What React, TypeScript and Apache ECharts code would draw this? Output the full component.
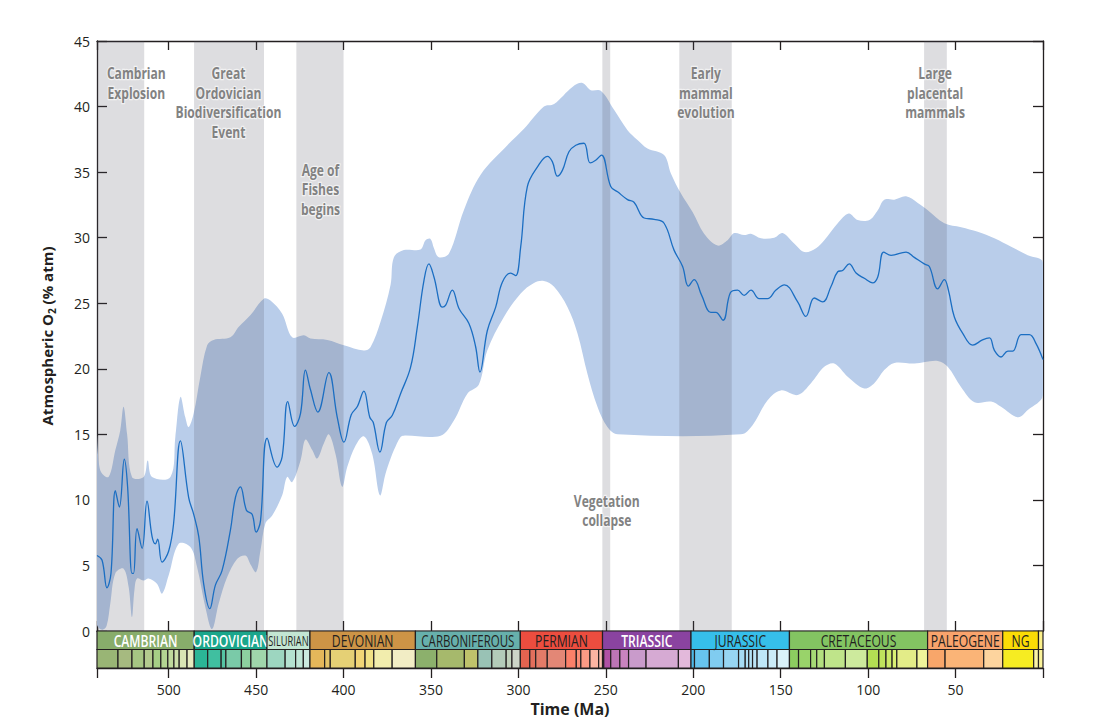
import React, { useEffect, useRef } from 'react';
import * as echarts from 'echarts';

// Time axis runs from the base of the Cambrian (541 Ma) to the present.
const AGE_MIN = 0;
const AGE_MAX = 541;
const O2_MAX = 45;

// Best estimate of atmospheric O2, [age Ma, % atm]
const o2Best: [number, number][] = [
  [541, 5.76], [538.1, 5.4], [535.3, 3.3], [533, 4.4], [530.5, 10.7], [528.2, 9.45], [525.4, 13.1],
  [523.5, 11], [521, 4.4], [520.1, 4.4], [518.1, 7.8], [515.2, 6.3], [512.4, 9.9], [509.5, 7.2],
  [507.6, 6.65], [506.3, 7.0], [503.8, 5.25], [500, 6.1], [497.2, 8.2], [493.3, 14.5], [488.6, 10.2],
  [485.7, 8.9], [482.8, 7.2], [480, 3.6], [476.5, 1.7], [473.3, 3.5], [469.5, 4.6], [464.7, 7.7],
  [461.8, 10.2], [459, 11], [455.5, 9.2], [452.3, 8.9], [450, 7.55], [447.5, 8.4], [443.7, 14.7],
  [438, 12.5], [435.1, 13.3], [431.9, 17.5], [428, 15.6], [424.6, 16.6], [421.8, 19.9], [418.9, 18.4],
  [414.7, 16.7], [408.4, 19.7], [403.6, 16.3], [399.8, 14.4], [395.6, 16.5], [392.2, 17.1],
  [388.4, 18.3], [385, 16.3], [383, 15.9], [379.2, 13.65], [375.5, 15.9], [372.1, 16.45],
  [367.4, 18.1], [361.7, 20.1], [357.8, 23.2], [354, 26.75], [351.2, 28.0], [348.3, 27.0],
  [343.5, 24.7], [341.6, 24.85], [337.8, 26.0], [334, 24.6], [328.3, 23.45], [324.5, 21.7],
  [322, 19.75], [317.8, 22.9], [313, 24.7], [309.2, 26.6], [304.4, 27.3], [301.6, 27.1],
  [298.7, 29.3], [294.9, 33.9], [289.1, 35.4], [283.4, 36.2], [280.6, 35.8], [277.7, 34.7],
  [274.8, 35.15], [271.1, 36.55], [267.2, 37.05], [262.5, 37.2], [259, 35.7], [255.8, 35.9],
  [252.5, 36.3], [247.2, 33.9], [243.3, 33.5], [237.6, 32.9], [233.9, 32.7], [228.1, 31.5],
  [222.4, 31.4], [216.7, 31.1], [211, 29.05], [206.1, 27.8], [202.8, 26.3], [199.5, 26.8],
  [195.2, 25.6], [190, 24.3], [187.1, 24.3], [183, 23.7], [178.8, 25.8], [174.7, 26.0],
  [170.9, 25.6], [167, 26.0], [162.3, 25.35], [157.5, 25.35], [152.7, 26.0], [147.9, 26.4],
  [140.3, 25.1], [135.6, 24.0], [130.8, 25.4], [126, 25.1], [121.3, 26.25], [117.4, 27.4],
  [114.6, 27.5], [110.8, 28.0], [106.9, 27.3], [102.2, 26.9], [97.4, 26.55], [94.5, 27.0],
  [91.1, 28.9], [86.9, 28.65], [78.3, 28.9], [73.6, 28.5], [67.9, 28.0], [65, 27.8], [60.2, 26.1],
  [56.4, 26.8], [54.1, 26.0], [50.7, 23.95], [45.9, 22.7], [40.2, 21.8], [34.6, 22.2], [30.6, 22.35],
  [27.8, 21.4], [24, 20.9], [20.1, 21.35], [17.3, 21.35], [12.5, 22.6], [7.8, 22.6], [3.9, 21.9],
  [0, 20.7],
];

// Upper bound of the uncertainty envelope
const o2Upper: [number, number][] = [
  [541, 14.8], [539.1, 12.25], [534.4, 11.75], [530.5, 13.8], [527.7, 15.3], [525.8, 17.1],
  [523.8, 15.05], [521, 11.75], [514.3, 11.75], [512, 13.0], [509.5, 11.75], [499, 11.75],
  [496.2, 14.8], [493.3, 17.85], [490.5, 16.3], [488.6, 15.55], [485.7, 16.6], [481.9, 19.4],
  [478, 21.8], [474.3, 22.2], [464.7, 22.4], [459.9, 23.2], [453.2, 24.1], [445.6, 25.35],
  [441.8, 25.2], [435.1, 24.2], [429.4, 22.4], [422.7, 22.55], [418.9, 22.3], [409.3, 22.2],
  [399.8, 21.8], [388.4, 21.4], [384.6, 21.65], [378.8, 23.6], [373.1, 26.4], [371.2, 28.5],
  [365.5, 29.05], [356, 29.1], [353.1, 29.8], [350.3, 29.9], [348.3, 29.2], [345.5, 28.5],
  [339.7, 28.8], [331.2, 32.1], [321.6, 34.8], [306.3, 37.05], [296.8, 38.3], [285.4, 40.0],
  [279.6, 40.2], [269.1, 41.5], [263.4, 41.8], [258.6, 41.25], [252.9, 41.2], [245.3, 39.75],
  [237.6, 38.2], [231.9, 37.45], [226.2, 36.8], [216.7, 36.3], [212.8, 34.9], [207.2, 33.4],
  [200.4, 31.95], [193.8, 30.3], [186.1, 29.4], [180.4, 29.8], [176.6, 30.35], [170.9, 30.2],
  [167, 30.3], [161.3, 29.95], [153.7, 30.0], [148.9, 30.35], [142.3, 29.55], [136.5, 28.9],
  [129.8, 29.2], [125.1, 29.8], [117.4, 31.1], [111.1, 31.85], [106, 31.35], [99.3, 31.35],
  [94.5, 32.1], [90.8, 32.9], [85, 32.9], [78.3, 33.15], [71.6, 32.65], [65.9, 32.1], [56.4, 31.1],
  [46.8, 30.8], [37.3, 30.45], [27.8, 29.95], [18.2, 29.3], [8.7, 28.65], [0, 28.1],
];

// Lower bound of the uncertainty envelope
const o2Lower: [number, number][] = [
  [541, 0.5], [538, 0.1], [535.5, 0.4], [533.4, 2.1], [530.5, 4.4], [525.8, 4.75], [522.9, 3.35],
  [521, 1.05], [519.6, 3.1], [518.1, 4.0], [514.3, 3.85], [511.5, 4.0], [506.7, 3.6], [503.8, 2.85],
  [500, 4.25], [494.3, 6.65], [487.6, 6.4], [483.8, 4.9], [479, 1.8], [475.2, 0.15], [471.4, 2.1],
  [466.6, 4.1], [460.9, 5.5], [456.1, 5.75], [453.3, 5.1], [450, 4.5], [447.5, 6.15], [444.7, 8.2],
  [440.8, 8.8], [435.1, 10.35], [432.3, 11.75], [429.4, 11.35], [424.6, 13.0], [421.8, 14.6],
  [417.9, 13.8], [415.1, 13.15], [411.3, 14.3], [408.4, 15.0], [404.6, 13.5], [400.8, 11.0],
  [397.9, 12.5], [393.1, 14.15], [388.4, 14.85], [383.6, 13.5], [379.2, 10.35], [376, 12.0],
  [373.1, 13.15], [371.2, 13.8], [367.4, 14.8], [365.5, 14.9], [344.5, 14.9], [336.9, 16.05],
  [329.2, 18.1], [322.6, 18.8], [317.8, 21.4], [308.3, 23.95], [298.7, 25.75], [291.1, 26.55],
  [285.4, 26.7], [279.6, 26.25], [271.9, 24.7], [266.2, 22.7], [260.5, 19.6], [254.8, 17.1],
  [249.1, 15.55], [243.3, 15.0], [172.8, 15.0], [166.1, 15.7], [157.5, 17.6], [149.9, 18.35],
  [140.3, 18.0], [132.7, 18.9], [125.1, 20.15], [119.4, 20.4], [111.7, 19.4], [102.2, 18.5],
  [96.5, 18.9], [90.8, 19.9], [85, 20.45], [73.6, 20.4], [60.2, 20.6], [54.5, 20.15], [46.8, 18.6],
  [39.2, 17.45], [29.7, 17.5], [24, 17.1], [14.4, 16.3], [8.7, 16.85], [0, 18.0],
];

// Biological / environmental events: [from Ma, to Ma]
const eventSpans: [number, number][] = [
  [541, 514], [485.5, 445.5], [427, 400], [252, 247.5], [208, 178], [68, 55],
];
const eventNames = [
  'Cambrian\nExplosion',
  'Great\nOrdovician\nBiodiversification\nEvent',
  'Age of\nFishes\nbegins',
  'Vegetation\ncollapse',
  'Early\nmammal\nevolution',
  'Large\nplacental\nmammals',
];
// label anchor: [age Ma, O2 level of the label's top edge]
const eventLabelAt: [number, number][] = [
  [518.5, 43.3], [465.8, 43.3], [413.2, 35.95], [249.5, 10.7], [192.8, 43.3], [61.7, 43.3],
];

// Geologic periods: [start Ma, end Ma]
const periodSpans: [number, number][] = [
  [541, 485.4], [485.4, 443.8], [443.8, 419.2], [419.2, 358.9], [358.9, 298.9], [298.9, 251.9],
  [251.9, 201.3], [201.3, 145], [145, 66], [66, 23.03], [23.03, 2.58], [2.58, 0],
];
const periodNames = [
  'CAMBRIAN', 'ORDOVICIAN', 'SILURIAN', 'DEVONIAN', 'CARBONIFEROUS', 'PERMIAN',
  'TRIASSIC', 'JURASSIC', 'CRETACEOUS', 'PALEOGENE', 'NG', '',
];
const periodColors = [
  '#88ad6b', '#1ba68b', '#c3e6d3', '#cd9446', '#67b0ac', '#ec4d3f',
  '#8a43a0', '#36bfea', '#83c462', '#f9a36c', '#fbdc06', '#fbf08a',
];
const periodTextColors = [
  '#ffffff', '#ffffff', '#231f20', '#231f20', '#231f20', '#231f20',
  '#ffffff', '#231f20', '#231f20', '#231f20', '#231f20', '#231f20',
];

// Stages / epochs: [start Ma, end Ma]
const stageSpans: [number, number][] = [
  [541, 529], [529, 521], [521, 514], [514, 509], [509, 504.5], [504.5, 500.5], [500.5, 497],
  [497, 494], [494, 489.5], [489.5, 485.4],
  [485.4, 477.7], [477.7, 470], [470, 467.3], [467.3, 458.4], [458.4, 453], [453, 443.8],
  [443.8, 433.4], [433.4, 427.4], [427.4, 423], [423, 419.2],
  [419.2, 410.8], [410.8, 407.6], [407.6, 393.3], [393.3, 387.7], [387.7, 382.7], [382.7, 372.2],
  [372.2, 358.9],
  [358.9, 346.7], [346.7, 330.9], [330.9, 323.2], [323.2, 315.2], [315.2, 307], [307, 303.7],
  [303.7, 298.9],
  [298.9, 293.5], [293.5, 290.1], [290.1, 283.5], [283.5, 273], [273, 266.9], [266.9, 264.3],
  [264.3, 259.1], [259.1, 254.1], [254.1, 251.9],
  [251.9, 251.2], [251.2, 247.2], [247.2, 242], [242, 237], [237, 227], [227, 208.5], [208.5, 201.3],
  [201.3, 199.3], [199.3, 190.8], [190.8, 182.7], [182.7, 174.1], [174.1, 170.3], [170.3, 168.3],
  [168.3, 166.1], [166.1, 163.5], [163.5, 157.3], [157.3, 152.1], [152.1, 145],
  [145, 139.8], [139.8, 132.9], [132.9, 129.4], [129.4, 125], [125, 113], [113, 100.5],
  [100.5, 93.9], [93.9, 89.8], [89.8, 86.3], [86.3, 83.6], [83.6, 72.1], [72.1, 66],
  [66, 56], [56, 33.9], [33.9, 23.03],
  [23.03, 5.33], [5.33, 2.58], [2.58, 0],
];
const stageColors = [
  '#99b575', '#a6ba80', '#a6c583', '#b3ca8e', '#a6cf86', '#b3d492', '#bfd99d', '#ccdfaa', '#d9e5b4', '#e6ebbf',
  '#2bb596', '#40bfa0', '#55c4a3', '#7acaa8', '#8dd09f', '#a0d6ab',
  '#9dd6c0', '#b4e2d0', '#bfe6d6', '#cbeadf',
  '#e5b75a', '#e5c468', '#e5d075', '#f1d576', '#f1e185', '#f2edad', '#f2edc5',
  '#8cb06c', '#a6b96c', '#bfc26b', '#99c2b5', '#b3cbb9', '#bfd0ba', '#ccd4c7',
  '#e36350', '#e36f5c', '#e37b68', '#e38776', '#fb8069', '#fb8d76', '#fb9a85', '#fcb4a2', '#fcc0b2',
  '#a4469f', '#b051a5', '#bc75b5', '#c983bf', '#c99bcb', '#d6aad3', '#e3b9db',
  '#4eb8e6', '#67c4ee', '#80ccf0', '#97d5f2', '#a6dbf3', '#addef4', '#b4e1f5', '#bce4f6', '#bfe6f7', '#cbebf8', '#d9f1f9',
  '#8ccd60', '#99d36a', '#a6d975', '#b3df7f', '#bfe48a', '#cdea9d', '#b3de53', '#bfe35d', '#cce968', '#d9ef74', '#e3ec88', '#f0f49a',
  '#f8a66a', '#fab477', '#fdd49e',
  '#f6ec22', '#fbf4a5', '#fbf39a',
];

const yTicks = [0, 5, 10, 15, 20, 25, 30, 35, 40, 45];
const xTickLabels = [500, 450, 400, 350, 300, 250, 200, 150, 100, 50];

const INK = '#231f20';
const SANS = '"Open Sans", "Noto Sans", sans-serif';

export default function App() {
  const ref = useRef<HTMLDivElement>(null);

  useEffect(() => {
    if (!ref.current) return;
    const chart = echarts.init(ref.current, undefined, { renderer: 'svg' });

    const axisLine = { show: true, onZero: false, lineStyle: { color: INK, width: 1.3 } };
    const tickLine = { color: INK, width: 1.3 };

    const option: echarts.EChartsOption = {
      animation: false,
      backgroundColor: '#ffffff',
      grid: [
        { left: 97, top: 41, width: 946, height: 590 },
        { left: 97, top: 631, width: 946, height: 37 },
      ],
      xAxis: [
        {
          gridIndex: 0, type: 'value', min: AGE_MIN, max: AGE_MAX, interval: 50, inverse: true,
          position: 'bottom', axisLine, splitLine: { show: false },
          axisTick: { inside: true, length: 10, lineStyle: tickLine },
          axisLabel: { show: false },
        },
        {
          gridIndex: 0, type: 'value', min: AGE_MIN, max: AGE_MAX, interval: 50, inverse: true,
          position: 'top', axisLine, splitLine: { show: false },
          axisTick: { inside: true, length: 9, lineStyle: tickLine },
          axisLabel: { show: false },
        },
        {
          gridIndex: 1, type: 'value', min: AGE_MIN, max: AGE_MAX, interval: 50, inverse: true,
          position: 'bottom', axisLine, splitLine: { show: false },
          axisTick: { inside: false, length: 10, lineStyle: tickLine },
          axisLabel: {
            margin: 14, color: INK, fontFamily: SANS, fontSize: 14,
            formatter: (v: number) => (xTickLabels.includes(v) ? String(v) : ''),
          },
          name: 'Time (Ma)', nameLocation: 'middle', nameGap: 33,
          nameTextStyle: { color: INK, fontFamily: SANS, fontSize: 16, fontWeight: 'bold' },
        },
      ],
      yAxis: [
        {
          gridIndex: 0, type: 'value', min: 0, max: O2_MAX, interval: 5, position: 'left', axisLine,
          splitLine: { show: false },
          axisTick: { inside: true, length: 10, lineStyle: tickLine },
          axisLabel: {
            margin: 7, color: INK, fontFamily: SANS, fontSize: 14,
            formatter: (v: number) => (yTicks.includes(v) ? String(v) : ''),
          },
          name: '{a|Atmospheric O}{b|2}{a| (% atm)}', nameLocation: 'middle', nameGap: 40,
          nameTextStyle: {
            rich: {
              a: { fontFamily: SANS, fontSize: 15, fontWeight: 'bold', color: INK, lineHeight: 20 },
              b: { fontFamily: SANS, fontSize: 10, fontWeight: 'bold', color: INK, lineHeight: 12, verticalAlign: 'bottom' },
            },
          },
        },
        {
          gridIndex: 0, type: 'value', min: 0, max: O2_MAX, interval: 5, position: 'right', axisLine,
          splitLine: { show: false },
          axisTick: { inside: true, length: 10, lineStyle: tickLine },
          axisLabel: { show: false },
        },
        { gridIndex: 1, type: 'value', min: 0, max: 2, show: false },
      ],
      series: [
        {
          // uncertainty envelope
          type: 'custom', xAxisIndex: 0, yAxisIndex: 0, z: 1, clip: true, silent: true,
          data: [[0, 0]],
          renderItem: (_params: any, api: any) => {
            const pts = o2Upper.map((p) => api.coord(p))
              .concat(o2Lower.slice().reverse().map((p) => api.coord(p)));
            return {
              type: 'polygon',
              shape: { points: pts, smooth: 0.35 },
              style: { fill: '#b9cdea', stroke: 'none' },
            };
          },
        },
        {
          // event bands
          type: 'custom', xAxisIndex: 0, yAxisIndex: 0, z: 2, clip: true, silent: true,
          data: eventSpans.map((s) => [s[0], s[1]]),
          renderItem: (params: any, api: any) => {
            const s = eventSpans[params.dataIndex];
            const a = api.coord([s[0], O2_MAX]);
            const b = api.coord([s[1], 0]);
            return {
              type: 'rect',
              shape: { x: Math.min(a[0], b[0]), y: a[1], width: Math.abs(b[0] - a[0]), height: b[1] - a[1] },
              style: { fill: 'rgba(72,72,88,0.19)' },
            };
          },
        },
        {
          type: 'line', xAxisIndex: 0, yAxisIndex: 0, z: 3, data: o2Best, showSymbol: false,
          smooth: 0.4, lineStyle: { color: '#1b6ec2', width: 1.3 }, silent: true,
        },
        {
          // event captions, condensed bold
          type: 'custom', xAxisIndex: 0, yAxisIndex: 0, z: 4, silent: true,
          data: eventLabelAt.map((p) => [p[0], p[1]]),
          renderItem: (params: any, api: any) => {
            const i = params.dataIndex;
            const c = api.coord(eventLabelAt[i]);
            return {
              type: 'text', x: c[0], y: c[1], scaleX: 0.755,
              style: {
                text: eventNames[i], x: 0, y: 0, align: 'center', verticalAlign: 'top',
                fontFamily: SANS, fontWeight: 'bold', fontSize: 16, lineHeight: 19.5,
                fill: '#828282', stroke: 'rgba(255,255,255,0.6)', lineWidth: 2.5,
              },
            };
          },
        },
        {
          // stages row
          type: 'custom', xAxisIndex: 2, yAxisIndex: 2, z: 2, silent: true,
          data: stageSpans.map((s) => [s[0], s[1]]),
          renderItem: (params: any, api: any) => {
            const s = stageSpans[params.dataIndex];
            const a = api.coord([s[0], 1]);
            const b = api.coord([s[1], 0]);
            return {
              type: 'rect',
              shape: { x: a[0], y: a[1], width: b[0] - a[0], height: b[1] - a[1] },
              style: { fill: stageColors[params.dataIndex], stroke: INK, lineWidth: 1.2 },
            };
          },
        },
        {
          // periods row
          type: 'custom', xAxisIndex: 2, yAxisIndex: 2, z: 3, silent: true,
          data: periodSpans.map((s) => [s[0], s[1]]),
          renderItem: (params: any, api: any) => {
            const i = params.dataIndex;
            const s = periodSpans[i];
            const a = api.coord([s[0], 2]);
            const b = api.coord([s[1], 1]);
            const sx = i === 2 ? 0.64 : i === 4 ? 0.72 : 0.76;
            return {
              type: 'group',
              children: [
                {
                  type: 'rect',
                  shape: { x: a[0], y: a[1], width: b[0] - a[0], height: b[1] - a[1] },
                  style: { fill: periodColors[i], stroke: INK, lineWidth: 1.2 },
                },
                {
                  type: 'text', x: (a[0] + b[0]) / 2, y: (a[1] + b[1]) / 2 + 0.5, scaleX: sx,
                  style: {
                    text: periodNames[i], x: 0, y: 0,
                    align: 'center', verticalAlign: 'middle', fill: periodTextColors[i],
                    fontFamily: SANS, fontSize: i === 2 ? 14.5 : 16,
                    fontWeight: periodTextColors[i] === '#ffffff' ? 600 : 'normal',
                  },
                },
              ],
            };
          },
        },
      ],
    };

    chart.setOption(option);
    return () => chart.dispose();
  }, []);

  return (
    <div
      ref={ref}
      style={{ position: 'absolute', left: 0, top: 0, width: 1102, height: 727 }}
    />
  );
}
